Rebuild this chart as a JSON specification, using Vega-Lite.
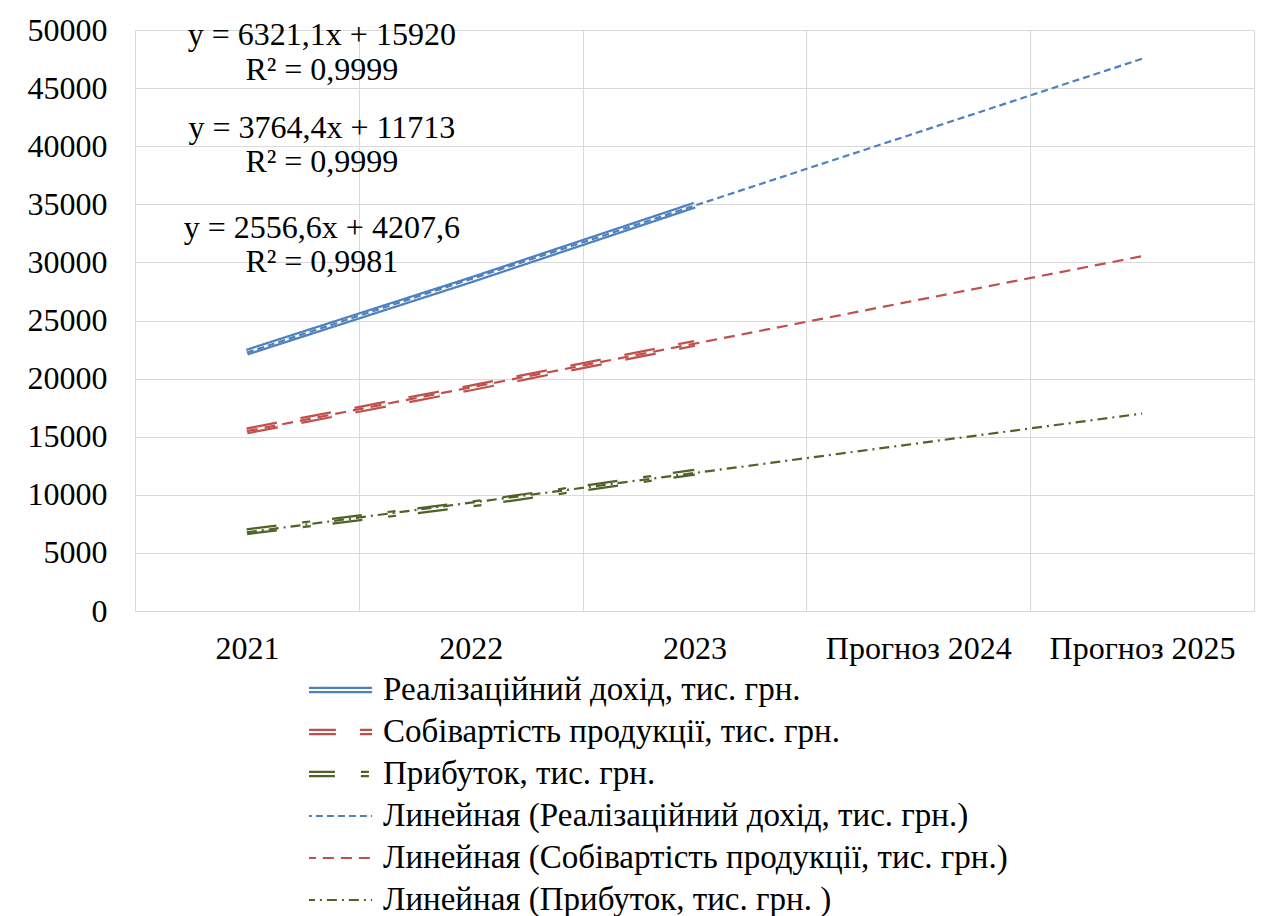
{
  "$schema": "https://vega.github.io/schema/vega-lite/v6.json",
  "width": 1119,
  "height": 581,
  "autosize": "none",
  "padding": {"left": 135, "top": 30, "right": 18, "bottom": 305},
  "background": "white",
  "config": {
    "view": {"stroke": null},
    "style": {"guide-label": {"font": "Liberation Serif"}},
    "axis": {"labelFont": "Liberation Serif", "labelColor": "#000000", "labelFontSize": 32, "gridColor": "#d9d9d9", "gridWidth": 1, "ticks": false, "tickSize": 0, "title": null},
    "legend": {"labelFont": "Liberation Serif", "labelFontSize": 33, "labelColor": "#000000", "labelLimit": 0, "labelOffset": 15, "symbolSize": 3136, "clipHeight": 40, "rowPadding": 2, "title": null}
  },
  "datasets": {
    "lines": [
      {"series": "Реалізаційний дохід, тис. грн.", "kind": "actual", "year": "2021", "value": 22278},
      {"series": "Реалізаційний дохід, тис. грн.", "kind": "actual", "year": "2022", "value": 28489},
      {"series": "Реалізаційний дохід, тис. грн.", "kind": "actual", "year": "2023", "value": 34920},
      {"series": "Собівартість продукції, тис. грн.", "kind": "actual", "year": "2021", "value": 15499},
      {"series": "Собівартість продукції, тис. грн.", "kind": "actual", "year": "2022", "value": 19199},
      {"series": "Собівартість продукції, тис. грн.", "kind": "actual", "year": "2023", "value": 23028},
      {"series": "Прибуток, тис. грн.", "kind": "actual", "year": "2021", "value": 6828},
      {"series": "Прибуток, тис. грн.", "kind": "actual", "year": "2022", "value": 9192},
      {"series": "Прибуток, тис. грн.", "kind": "actual", "year": "2023", "value": 11941},
      {"series": "Линейная (Реалізаційний дохід, тис. грн.)", "kind": "trend", "year": "2021", "value": 22241},
      {"series": "Линейная (Реалізаційний дохід, тис. грн.)", "kind": "trend", "year": "Прогноз 2025", "value": 47526},
      {"series": "Линейная (Собівартість продукції, тис. грн.)", "kind": "trend", "year": "2021", "value": 15477},
      {"series": "Линейная (Собівартість продукції, тис. грн.)", "kind": "trend", "year": "Прогноз 2025", "value": 30535},
      {"series": "Линейная (Прибуток, тис. грн. )", "kind": "trend", "year": "2021", "value": 6764},
      {"series": "Линейная (Прибуток, тис. грн. )", "kind": "trend", "year": "Прогноз 2025", "value": 16991}
    ],
    "labels": [
      {"text": "y = 6321,1x + 15920", "year": "2021", "value": 49570},
      {"text": "R² = 0,9999", "year": "2021", "value": 46560},
      {"text": "y = 3764,4x + 11713", "year": "2021", "value": 41570},
      {"text": "R² = 0,9999", "year": "2021", "value": 38640},
      {"text": "y = 2556,6x + 4207,6", "year": "2021", "value": 32960},
      {"text": "R² = 0,9981", "year": "2021", "value": 30030}
    ]
  },
  "encoding": {
    "x": {
      "field": "year", "type": "nominal", "bandPosition": 0.5,
      "scale": {"type": "band", "paddingInner": 0, "paddingOuter": 0, "domain": ["2021", "2022", "2023", "Прогноз 2024", "Прогноз 2025"]},
      "axis": {"tickBand": "extent", "labelAngle": 0, "labelPadding": 22, "labelLimit": 0, "domainColor": "#d9d9d9", "grid": true, "labelFont": "Liberation Serif"}
    },
    "y": {
      "field": "value", "type": "quantitative",
      "scale": {"domain": [0, 50000], "nice": false},
      "axis": {"values": [0, 5000, 10000, 15000, 20000, 25000, 30000, 35000, 40000, 45000, 50000], "format": "d", "domain": false, "labelPadding": 28, "labelFont": "Liberation Serif"}
    }
  },
  "resolve": {
    "scale": {"strokeDash": "independent", "stroke": "independent", "color": "independent"},
    "legend": {"strokeDash": "independent", "stroke": "independent", "color": "independent"}
  },
  "layer": [
    {
      "data": {"name": "lines"},
      "transform": [{"filter": "datum.kind === 'actual'"}],
      "mark": {"type": "line", "strokeCap": "butt", "strokeWidth": 7},
      "encoding": {
        "stroke": {"field": "series", "type": "nominal",
          "scale": {"domain": ["Реалізаційний дохід, тис. грн.", "Собівартість продукції, тис. грн.", "Прибуток, тис. грн."], "range": ["#4f81bd", "#c0504d", "#4f6228"]},
          "legend": {"orient": "none", "legendX": 174, "legendY": 640, "title": null, "symbolType": "M-1.2,-0.075H1.2M-1.2,0.075H1.2", "symbolSize": 3136, "symbolStrokeWidth": 2.3, "labelFontSize": 33, "labelFont": "Liberation Serif", "labelColor": "#000000", "labelLimit": 0, "labelOffset": 15, "clipHeight": 40, "rowPadding": 2, "direction": "vertical"}},
        "strokeDash": {"field": "series", "type": "nominal",
          "scale": {"domain": ["Реалізаційний дохід, тис. грн.", "Собівартість продукції, тис. грн.", "Прибуток, тис. грн."], "range": [[1, 0], [31, 24], [30, 26, 8, 22]]},
          "legend": {"orient": "none", "legendX": 174, "legendY": 640, "title": null, "symbolType": "M-1.2,-0.075H1.2M-1.2,0.075H1.2", "symbolSize": 3136, "symbolStrokeWidth": 2.3, "labelFontSize": 33, "labelFont": "Liberation Serif", "labelColor": "#000000", "labelLimit": 0, "labelOffset": 15, "clipHeight": 40, "rowPadding": 2, "direction": "vertical"}}
      }
    },
    {
      "data": {"name": "lines"},
      "transform": [{"filter": "datum.kind === 'actual'"}],
      "mark": {"type": "line", "color": "white", "strokeWidth": 2.5, "strokeCap": "butt"},
      "encoding": {
        "detail": {"field": "series"},
        "strokeDash": {"field": "series", "type": "nominal", "legend": null,
          "scale": {"domain": ["Реалізаційний дохід, тис. грн.", "Собівартість продукції, тис. грн.", "Прибуток, тис. грн."], "range": [[1, 0], [31, 24], [30, 26, 8, 22]]}}
      }
    },
    {
      "data": {"name": "lines"},
      "transform": [{"filter": "datum.kind === 'trend'"}],
      "mark": {"type": "line", "strokeCap": "butt", "strokeWidth": 2.2},
      "encoding": {
        "color": {"field": "series", "type": "nominal",
          "scale": {"domain": ["Линейная (Реалізаційний дохід, тис. грн.)", "Линейная (Собівартість продукції, тис. грн.)", "Линейная (Прибуток, тис. грн. )"], "range": ["#4f81bd", "#c0504d", "#4f6228"]},
          "legend": {"orient": "none", "legendX": 174, "legendY": 766, "title": null, "symbolType": "M-1.2,0H1.2", "symbolSize": 3136, "symbolStrokeWidth": 2.2, "labelFontSize": 33, "labelFont": "Liberation Serif", "labelColor": "#000000", "labelLimit": 0, "labelOffset": 15, "clipHeight": 40, "rowPadding": 2, "direction": "vertical"}},
        "strokeDash": {"field": "series", "type": "nominal",
          "scale": {"domain": ["Линейная (Реалізаційний дохід, тис. грн.)", "Линейная (Собівартість продукції, тис. грн.)", "Линейная (Прибуток, тис. грн. )"], "range": [[7, 4], [11, 7], [10, 5, 2, 5]]},
          "legend": {"orient": "none", "legendX": 174, "legendY": 766, "title": null, "symbolType": "M-1.2,0H1.2", "symbolSize": 3136, "symbolStrokeWidth": 2.2, "labelFontSize": 33, "labelFont": "Liberation Serif", "labelColor": "#000000", "labelLimit": 0, "labelOffset": 15, "clipHeight": 40, "rowPadding": 2, "direction": "vertical"}}
      }
    },
    {
      "data": {"name": "labels"},
      "mark": {"type": "text", "fontSize": 32, "font": "Liberation Serif", "color": "#000000", "baseline": "middle", "align": "center"},
      "encoding": {
        "x": {"field": "year", "type": "nominal", "bandPosition": 0.835},
        "text": {"field": "text"}
      }
    }
  ]
}
